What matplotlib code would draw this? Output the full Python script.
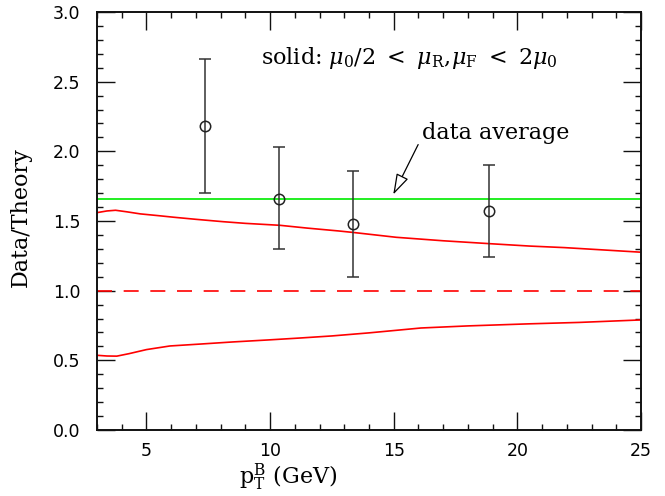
import matplotlib
matplotlib.use("Agg")
import matplotlib.pyplot as plt
from matplotlib.ticker import MultipleLocator, FormatStrFormatter

# Data points (pT bins)
pt = [7.35, 10.37, 13.37, 18.86]
ratio = [2.18, 1.66, 1.48, 1.57]
err_lo = [1.70, 1.30, 1.10, 1.24]
err_hi = [2.66, 2.03, 1.86, 1.905]

data_average = 1.66

# Theory scale-band curves
upper_x = [3.0, 3.4, 3.75, 4.2, 4.75, 5.5, 6.1, 7.0, 8.1, 9.0, 10.4, 11.5, 12.8, 13.4, 15.1, 17.0, 18.9, 20.5, 21.9, 23.5, 25.0]
upper_y = [1.56, 1.572, 1.577, 1.566, 1.551, 1.538, 1.527, 1.512, 1.495, 1.483, 1.469, 1.449, 1.428, 1.417, 1.383, 1.358, 1.337, 1.32, 1.309, 1.292, 1.276]
lower_x = [3.0, 3.4, 3.8, 4.3, 5.0, 5.95, 7.2, 8.5, 9.9, 11.2, 12.5, 14.0, 16.1, 18.0, 20.5, 22.5, 25.0]
lower_y = [0.536, 0.531, 0.530, 0.548, 0.577, 0.603, 0.617, 0.632, 0.646, 0.66, 0.675, 0.697, 0.732, 0.747, 0.762, 0.772, 0.79]
central = 1.0

plt.rcParams['mathtext.fontset'] = 'dejavuserif'

TXT = 'DejaVu Serif'

fig = plt.figure(figsize=(6.65, 4.96), dpi=100)
ax = fig.add_axes([0.1459, 0.1331, 0.818, 0.8427])

ax.plot(upper_x, upper_y, color='#ff0000', lw=1.2)
ax.plot(lower_x, lower_y, color='#ff0000', lw=1.2)
ax.axhline(central, color='#ff0000', lw=1.2, linestyle=(0, (9.0, 7.0)))
ax.axhline(data_average, color='#22ee22', lw=1.4)

yerr = [[r - l for r, l in zip(ratio, err_lo)], [h - r for r, h in zip(ratio, err_hi)]]
ax.errorbar(pt, ratio, yerr=yerr, fmt='o', mfc='none', mec='#222222', ms=7.5,
            mew=1.1, ecolor='#333333', elinewidth=1.1, capsize=4, capthick=1.1)

ax.set_xlim(3, 25)
ax.set_ylim(0, 3)
ax.xaxis.set_major_locator(MultipleLocator(5))
ax.xaxis.set_minor_locator(MultipleLocator(1))
ax.yaxis.set_major_locator(MultipleLocator(0.5))
ax.yaxis.set_minor_locator(MultipleLocator(0.1))
ax.yaxis.set_major_formatter(FormatStrFormatter('%.1f'))
ax.tick_params(which='both', direction='in', top=True, right=True, width=1.0, color='#111111')
ax.tick_params(which='major', length=13, labelsize=12.5)
ax.tick_params(axis='x', which='major', pad=9)
ax.tick_params(axis='y', which='major', pad=12)
ax.tick_params(which='minor', length=4.3)
for lab in ax.get_xticklabels() + ax.get_yticklabels():
    lab.set_family('DejaVu Sans')
for s in ax.spines.values():
    s.set_linewidth(1.4)
    s.set_color('#111111')

ax.set_ylabel('Data/Theory', family=TXT, fontsize=16)
ax.yaxis.set_label_coords(-0.12, 0.51)
ax.set_xlabel(r'p$_{\rm T}^{\rm B}$ (GeV)', family=TXT, fontsize=16)
ax.xaxis.set_label_coords(0.351, -0.075)

ax.text(9.65, 2.67, r'solid: $\mu_0/2\ <\ \mu_{\rm R},\!\mu_{\rm F}\ <\ 2\mu_0$', family=TXT,
        fontsize=16, va='center', ha='left')
ax.annotate('data average', xy=(14.98, 1.69), xytext=(16.15, 2.13), family=TXT,
            fontsize=16, va='center', ha='left',
            arrowprops=dict(arrowstyle='-|>,head_length=0.8,head_width=0.25', fc='white', ec='black',
                            lw=0.9, shrinkA=2, shrinkB=0, relpos=(0, 0.35)))

fig.savefig('out.png', dpi=100)
